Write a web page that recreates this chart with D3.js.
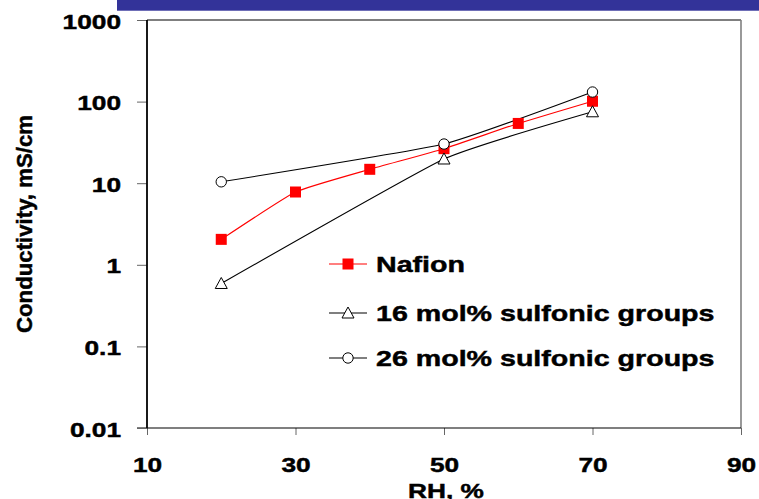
<!DOCTYPE html>
<html>
<head>
<meta charset="utf-8">
<script src="https://cdn.jsdelivr.net/npm/d3@7"></script>
<style>
  html,body{margin:0;padding:0;background:#fff;}
  svg{display:block;}
  text{font-family:"Liberation Sans",Arial,sans-serif;font-weight:bold;fill:#000;stroke:#000;stroke-width:0.45px;}
</style>
</head>
<body>
<svg id="chart" width="759" height="499"></svg>
<script>
/* ── data ── */
var rhNafion=[20,30,40,50,60,70];
var condNafion=[2.05,7.8,14.8,26.5,54,101];
var rh16=[20,50,70];
var cond16=[0.59,19.8,75];
var rh26=[20,50,70];
var cond26=[10.4,30.2,131];
var xTicks=[10,30,50,70,90];
var yTicks=[0.01,0.1,1,10,100,1000];
var yTickLabels=['0.01','0.1','1','10','100','1000'];
var seriesNames=['Nafion','16 mol% sulfonic groups','26 mol% sulfonic groups'];

/* ── layout ── */
var W=759, H=499;
var X0=147, X1=741, Y0=428, Y1=20;
var SX=1.25; // labels look stretched sideways in the original

var svg=d3.select('#chart');
var x=d3.scaleLinear().domain([10,90]).range([X0,X1]);
var y=d3.scaleLog().domain([0.01,1000]).range([Y0,Y1]);

function stretch(t,k){
  t.each(function(){
    var n=this;
    n.setAttribute('textLength',n.getComputedTextLength()*k);
    n.setAttribute('lengthAdjust','spacingAndGlyphs');
  });
}

// blue strip at top
svg.append('rect').attr('x',117).attr('y',0).attr('width',W-117).attr('height',10.7).attr('fill','#333399');

// frame top + right
svg.append('line').attr('x1',X0).attr('x2',X1).attr('y1',Y1).attr('y2',Y1)
  .attr('stroke','#000').attr('stroke-width',1.2);
svg.append('line').attr('x1',X1).attr('x2',X1).attr('y1',Y1).attr('y2',Y0)
  .attr('stroke','#808080').attr('stroke-width',1.6);

/* ── axes ── */
var gx=svg.append('g').attr('transform','translate(0,'+Y0+')')
  .call(d3.axisBottom(x).tickValues(xTicks).tickSize(7).tickSizeOuter(0).tickFormat(d3.format('d')));
gx.select('.domain').remove();
gx.append('line').attr('x1',X0-10).attr('x2',X1).attr('y1',0).attr('y2',0)
  .attr('stroke','#000').attr('stroke-width',1.2);
gx.selectAll('.tick line').attr('stroke','#666').attr('stroke-width',1);
gx.selectAll('.tick text').attr('y',43.7).attr('dy',null)
  .attr('font-size',21).attr('font-family','"Liberation Sans",Arial,sans-serif').attr('font-weight','bold')
  .call(stretch,SX);

var gy=svg.append('g').attr('transform','translate('+X0+',0)')
  .call(d3.axisLeft(y).tickValues(yTicks).tickSize(10).tickSizeOuter(0)
    .tickFormat(function(d,i){return yTickLabels[i];}));
gy.select('.domain').remove();
gy.append('line').attr('x1',0).attr('x2',0).attr('y1',Y1).attr('y2',Y0)
  .attr('stroke','#000').attr('stroke-width',1.8);
gy.selectAll('.tick line').attr('stroke','#666').attr('stroke-width',1);
gy.selectAll('.tick text').attr('x',-26).attr('dy',null).attr('y',8)
  .attr('font-size',21).attr('font-family','"Liberation Sans",Arial,sans-serif').attr('font-weight','bold')
  .call(stretch,SX);

// axis titles
svg.append('text').attr('x',446).attr('y',498).attr('text-anchor','middle')
  .attr('font-size',21).text('RH, %').call(stretch,SX);
svg.append('text').attr('transform','translate(32,224) rotate(-90)').attr('text-anchor','middle')
  .attr('font-size',22).attr('textLength',218).attr('lengthAdjust','spacingAndGlyphs')
  .text('Conductivity, mS/cm');

/* ── series ── */
var line=d3.line().x(function(d){return x(d[0]);}).y(function(d){return y(d[1]);})
  .curve(d3.curveCardinal.tension(0.6));

var series=[
  {xs:rhNafion, ys:condNafion, col:'#ff0000', mark:'square'},
  {xs:rh16, ys:cond16, col:'#000', mark:'triangle'},
  {xs:rh26, ys:cond26, col:'#000', mark:'circle'}
];

function drawMark(g,type,cx,cy){
  if(type==='square'){
    g.append('rect').attr('x',cx-5.5).attr('y',cy-5.5).attr('width',11).attr('height',11)
      .attr('fill','#ff0000');
  } else if(type==='triangle'){
    g.append('path').attr('d','M'+cx+','+(cy-6)+' L'+(cx+6)+','+(cy+5)+' L'+(cx-6)+','+(cy+5)+' Z')
      .attr('fill','#fff').attr('stroke','#000').attr('stroke-width',1);
  } else {
    g.append('circle').attr('cx',cx).attr('cy',cy).attr('r',5.2)
      .attr('fill','#fff').attr('stroke','#000').attr('stroke-width',1);
  }
}

series.forEach(function(s){
  var pts=s.xs.map(function(v,i){return [v,s.ys[i]];});
  svg.append('path').attr('d',line(pts)).attr('fill','none')
    .attr('stroke',s.col).attr('stroke-width',1.1);
});
series.forEach(function(s){
  var g=svg.append('g');
  s.xs.forEach(function(v,i){drawMark(g,s.mark,x(v),y(s.ys[i]));});
});

/* ── legend ── */
var legY=[264,313,358];
series.forEach(function(s,i){
  var g=svg.append('g');
  g.append('line').attr('x1',329).attr('x2',367).attr('y1',legY[i]).attr('y2',legY[i])
    .attr('stroke',s.col).attr('stroke-width',1.1);
  drawMark(g,s.mark,348,legY[i]);
  g.append('text').attr('x',376).attr('y',legY[i]+8).attr('font-size',22)
    .text(seriesNames[i]).call(stretch,1.3);
});
</script>
</body>
</html>
